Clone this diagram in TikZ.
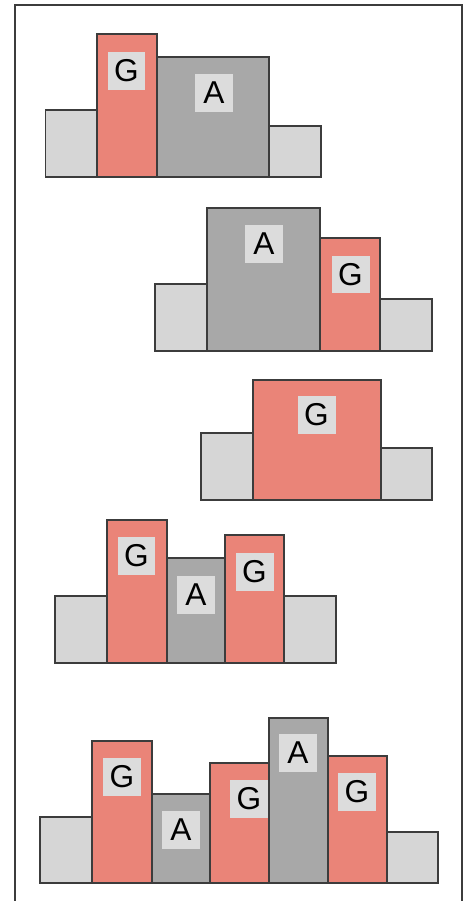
\documentclass[tikz,border=0pt]{standalone}
\usepackage{fontspec}
\setmainfont{Liberation Sans}
\usetikzlibrary{positioning}
\definecolor{gbarred}{RGB}{234,132,120}
\definecolor{abargray}{RGB}{168,168,168}
\definecolor{flankgray}{RGB}{214,214,214}
\definecolor{labelgray}{RGB}{220,220,220}
\definecolor{edgegray}{RGB}{60,60,60}
\tikzset{
  frame line/.style={edgegray,line width=0.045cm},
  flank bar/.style={draw=edgegray,fill=flankgray,line width=0.03cm},
  g bar/.style={draw=edgegray,fill=gbarred,line width=0.03cm},
  a bar/.style={draw=edgegray,fill=abargray,line width=0.03cm},
  base label/.style={fill=labelgray,minimum size=0.76cm,inner sep=0pt,font=\fontsize{18}{18}\selectfont},
}

\begin{document}
\begin{tikzpicture}[x=0.02cm,y=-0.02cm]
  \useasboundingbox (0,0) rectangle (469,901);
  \draw[frame line] (15,901) -- (15,5) -- (462,5) -- (462,901);

  % row 1: G A
  \draw[flank bar] (45.5,110) rectangle (97,177);
  \draw[g bar] (97,34) rectangle (157,177);
  \draw[a bar] (157,57) rectangle (269,177);
  \draw[flank bar] (269,126) rectangle (321,177);
  \node[base label] (r1g) at (126.5,71) {G};
  \node[base label] (r1a) at (214,93) {A};

  % row 2: A G
  \draw[flank bar] (155,284) rectangle (207,351);
  \draw[a bar] (207,208) rectangle (320,351);
  \draw[g bar] (320,238) rectangle (380,351);
  \draw[flank bar] (380,299) rectangle (432,351);
  \node[base label] (r2a) at (264,244) {A};
  \node[base label] (r2g) at (350.5,274.5) {G};

  % row 3: G
  \draw[flank bar] (201,433) rectangle (253,500);
  \draw[g bar] (253,380) rectangle (381,500);
  \draw[flank bar] (381,448) rectangle (432,500);
  \node[base label] (r3g) at (316.5,415) {G};

  % row 4: G A G
  \draw[flank bar] (55,596) rectangle (107,663);
  \draw[g bar] (107,520) rectangle (167,663);
  \draw[a bar] (167,558) rectangle (225,663);
  \draw[g bar] (225,535) rectangle (284,663);
  \draw[flank bar] (284,596) rectangle (336,663);
  \node[base label] (r4g1) at (136.5,556) {G};
  \node[base label] (r4a) at (196,594.5) {A};
  \node[base label] (r4g2) at (254.5,571.5) {G};

  % row 5: G A G A G
  \draw[flank bar] (40,817) rectangle (92,883);
  \draw[g bar] (92,741) rectangle (152,883);
  \draw[a bar] (152,794) rectangle (210,883);
  \draw[g bar] (210,763) rectangle (269,883);
  \draw[a bar] (269,718) rectangle (328,883);
  \draw[g bar] (328,756) rectangle (387,883);
  \draw[flank bar] (387,832) rectangle (438,883);
  \node[base label] (r5g1) at (122,777) {G};
  \node[base label] (r5a1) at (181,830) {A};
  \node[base label] (r5g2) at (249,799) {G};
  \node[base label] (r5a2) at (298,753) {A};
  \node[base label] (r5g3) at (357,792) {G};
\end{tikzpicture}
\end{document}
